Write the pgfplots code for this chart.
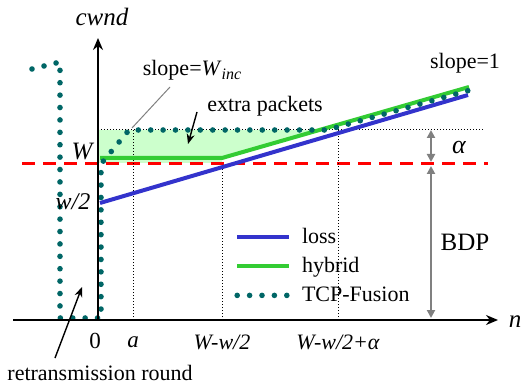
\documentclass[border=0pt]{standalone}
\usepackage{pgfplots}
\pgfplotsset{compat=1.18}
\usepackage{fontspec}
\setmainfont{Liberation Serif}
\usetikzlibrary{arrows.meta}
\definecolor{lossc}{RGB}{51,51,204}
\definecolor{hybc}{RGB}{51,204,51}
\definecolor{tealc}{RGB}{0,102,102}
\definecolor{fillc}{RGB}{204,255,204}
\definecolor{redc}{RGB}{255,0,0}
\definecolor{grayc}{RGB}{128,128,128}
\newcommand{\fs}[1]{\fontsize{#1}{#1}\selectfont}
\begin{document}
\begin{tikzpicture}
\begin{axis}[
  x=0.5pt, y=0.5pt,
  xmin=-98, xmax=432, ymin=-67, ymax=320,
  axis lines=none, ticks=none, clip=false,
  legend image code/.code={\draw[#1] (0pt,0pt) -- (26pt,0pt);},
  legend style={at={(axis cs:136,95)}, anchor=north west, draw=none, fill=none,
    inner xsep=0pt, inner ysep=0pt, font=\fs{11},
    nodes={inner sep=1pt, text height=8pt, text depth=2pt, anchor=west},
    row sep=2.5pt, column sep=4pt},
  legend cell align=left,
]
\path (rel axis cs:0,0) rectangle (rel axis cs:1,1);
% fill region (extra packets)
\addplot[fill=fillc, draw=none, forget plot] coordinates {(0,190) (221,190) (124,162) (124,157) (0,157)} -- cycle;
% BDP line
\addplot[redc, line width=1.5pt, dash pattern=on 6.5pt off 4pt, forget plot] coordinates {(-76,156) (390,156)};
% guide lines
\addplot[black, line width=0.5pt, densely dotted, forget plot] coordinates {(0,190) (387,190)};
\addplot[black, line width=0.5pt, densely dotted, forget plot] coordinates {(35,0) (35,190)};
\addplot[black, line width=0.5pt, densely dotted, forget plot] coordinates {(124,0) (124,156)};
\addplot[black, line width=0.5pt, densely dotted, forget plot] coordinates {(240,0) (240,190)};
% series
\addplot[lossc, line width=2pt] coordinates {(2,117) (370,225)};
\addlegendentry{loss}
\addplot[hybc, line width=2pt] coordinates {(2,162) (124,162) (371,233)};
\addlegendentry{hybrid}
\addplot[tealc, line width=2.8pt, line cap=round, line join=round, dash pattern=on 0pt off 6.2pt] coordinates {(-66,251) (-38,258) (-38,2) (3,2) (3,156) (31,190) (229,190) (376,231)};
\addlegendentry{TCP-Fusion}
% axes
\draw[black, line width=0.8pt, -{Stealth[length=6pt, width=5pt]}] (axis cs:-85,0) -- (axis cs:400,0);
\draw[black, line width=0.8pt, -{Stealth[length=6pt, width=5pt]}] (axis cs:0,0) -- (axis cs:0,282);
% gray double arrows
\draw[grayc, line width=1.3pt, {Triangle[length=4pt, width=4pt]}-{Triangle[length=4pt, width=4pt]}] (axis cs:333,190) -- (axis cs:333,158);
\draw[grayc, line width=1.3pt, {Triangle[length=4pt, width=4pt]}-{Triangle[length=4pt, width=4pt]}] (axis cs:333,154) -- (axis cs:333,2);
% annotation arrows
\draw[black, line width=0.7pt, -{Stealth[length=5pt, width=4pt]}] (axis cs:-43,-38) -- (axis cs:-16,33);
\draw[black, line width=0.7pt, -{Stealth[length=5pt, width=4pt]}] (axis cs:99,208) -- (axis cs:90,176);
\draw[grayc, line width=0.5pt] (axis cs:72,233) -- (axis cs:34,192);
% labels
\node[font=\fs{12.5}\itshape] at (axis cs:4,303) {cwnd};
\node[font=\fs{12.5}\itshape] at (axis cs:417,-2) {n};
\node[font=\fs{12.5}\itshape] at (axis cs:-16,168) {W};
\node[font=\fs{12}\itshape] at (axis cs:-25,118) {w/2};
\node[font=\fs{11.5}] at (axis cs:-3,-21) {0};
\node[font=\fs{11.5}\itshape] at (axis cs:35,-22) {a};
\node[font=\fs{11}\itshape] at (axis cs:124,-22) {W-w/2};
\node[font=\fs{11}\itshape] at (axis cs:240,-22) {W-w/2+α};
\node[font=\fs{11}] at (axis cs:94,250) {slope=\textit{W}\raisebox{-0.45ex}{\fs{8}\itshape inc}};
\node[font=\fs{11}] at (axis cs:167,214) {extra packets};
\node[font=\fs{11}] at (axis cs:367,257) {slope=1};
\node[font=\fs{13}\itshape] at (axis cs:361,172) {α};
\node[font=\fs{12.5}] at (axis cs:367,78) {BDP};
\node[font=\fs{11}] at (axis cs:2,-53) {retransmission round};
\end{axis}
\end{tikzpicture}
\end{document}
